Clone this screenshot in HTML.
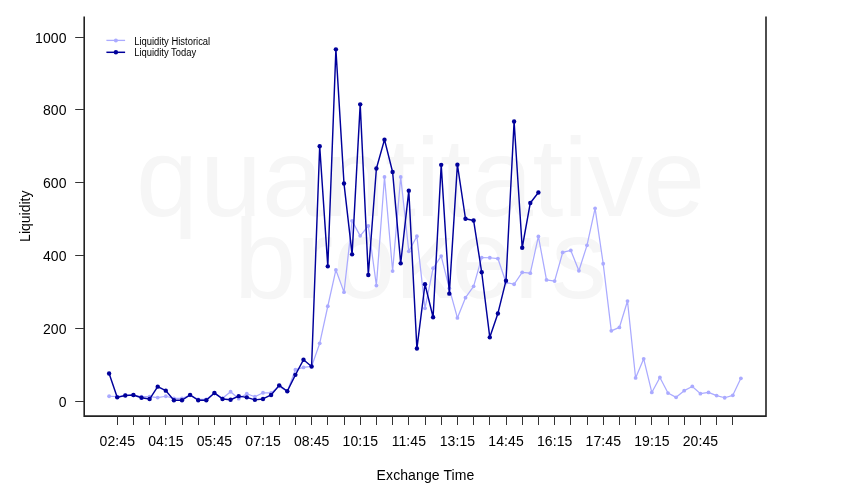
<!DOCTYPE html>
<html><head><meta charset="utf-8"><title>Liquidity</title>
<style>
html,body{margin:0;padding:0;background:#fff;}
body{width:850px;height:500px;overflow:hidden;font-family:"Liberation Sans",sans-serif;}
svg{display:block;will-change:transform;}
text{font-family:"Liberation Sans",sans-serif;}
</style></head><body>
<svg width="850" height="500" viewBox="0 0 850 500">
<rect width="850" height="500" fill="#fff"/>
<g fill="#f6f6f6" font-size="112">
<text x="136.0 199.9 261.9 323.3 385.0 415.4 440.0 470.9 532.5 563.2 587.6 643.3" y="215.5" font-size="111.4" transform="translate(0,-0.6) scale(1,1.0055)">quantitative</text>
<text transform="translate(233.9,298.4) scale(1,1.015)" textLength="373" lengthAdjust="spacingAndGlyphs">brokers</text>
</g>
<g fill="none" stroke="#aaaaff" stroke-width="1.25" stroke-linejoin="round" stroke-linecap="round"><path d="M109.1,396.25 L117.2,396.55 L125.3,395.25 L133.4,395.25 L141.5,396.55 L149.6,396.55 L157.7,397.55 L165.8,396.25 L173.9,398.35 L182.0,398.35 L190.1,395.35 L198.2,399.35 L206.3,399.35 L214.4,393.35 L222.5,398.35 L230.6,391.75 L238.7,398.65 L246.8,393.75 L254.9,396.75 L263.0,392.75 L271.1,392.95 L279.2,386.35 L287.3,391.35 L295.4,369.65 L303.5,367.45 L311.6,366.45 L319.7,343.35 L327.8,306.25 L335.9,269.95 L344.0,292.15 L352.1,220.85 L360.2,235.85 L368.3,225.95 L376.4,285.55 L384.5,176.95 L392.6,271.05 L400.7,176.95 L408.8,251.35 L416.9,236.25 L425.0,308.35 L433.1,268.25 L441.2,256.05 L449.3,288.35 L457.4,317.95 L465.5,297.65 L473.6,286.35 L481.7,257.55 L489.8,257.75 L497.9,258.55 L506.0,282.55 L514.1,284.25 L522.2,272.35 L530.3,273.15 L538.4,236.45 L546.5,279.95 L554.6,281.05 L562.7,252.45 L570.8,250.45 L578.9,270.75 L587.0,245.35 L595.1,208.35 L603.2,263.75 L611.3,330.85 L619.4,327.45 L627.5,301.05 L635.6,377.95 L643.7,358.85 L651.8,392.45 L659.9,377.45 L668.0,393.05 L676.1,397.35 L684.2,390.65 L692.3,386.45 L700.4,393.65 L708.5,392.45 L716.6,395.55 L724.7,397.75 L732.8,395.35 L740.9,378.35"/></g>
<g fill="#aaaaff"><circle cx="109.1" cy="396.25" r="1.9"/><circle cx="117.2" cy="396.55" r="1.9"/><circle cx="125.3" cy="395.25" r="1.9"/><circle cx="133.4" cy="395.25" r="1.9"/><circle cx="141.5" cy="396.55" r="1.9"/><circle cx="149.6" cy="396.55" r="1.9"/><circle cx="157.7" cy="397.55" r="1.9"/><circle cx="165.8" cy="396.25" r="1.9"/><circle cx="173.9" cy="398.35" r="1.9"/><circle cx="182.0" cy="398.35" r="1.9"/><circle cx="190.1" cy="395.35" r="1.9"/><circle cx="198.2" cy="399.35" r="1.9"/><circle cx="206.3" cy="399.35" r="1.9"/><circle cx="214.4" cy="393.35" r="1.9"/><circle cx="222.5" cy="398.35" r="1.9"/><circle cx="230.6" cy="391.75" r="1.9"/><circle cx="238.7" cy="398.65" r="1.9"/><circle cx="246.8" cy="393.75" r="1.9"/><circle cx="254.9" cy="396.75" r="1.9"/><circle cx="263.0" cy="392.75" r="1.9"/><circle cx="271.1" cy="392.95" r="1.9"/><circle cx="279.2" cy="386.35" r="1.9"/><circle cx="287.3" cy="391.35" r="1.9"/><circle cx="295.4" cy="369.65" r="1.9"/><circle cx="303.5" cy="367.45" r="1.9"/><circle cx="311.6" cy="366.45" r="1.9"/><circle cx="319.7" cy="343.35" r="1.9"/><circle cx="327.8" cy="306.25" r="1.9"/><circle cx="335.9" cy="269.95" r="1.9"/><circle cx="344.0" cy="292.15" r="1.9"/><circle cx="352.1" cy="220.85" r="1.9"/><circle cx="360.2" cy="235.85" r="1.9"/><circle cx="368.3" cy="225.95" r="1.9"/><circle cx="376.4" cy="285.55" r="1.9"/><circle cx="384.5" cy="176.95" r="1.9"/><circle cx="392.6" cy="271.05" r="1.9"/><circle cx="400.7" cy="176.95" r="1.9"/><circle cx="408.8" cy="251.35" r="1.9"/><circle cx="416.9" cy="236.25" r="1.9"/><circle cx="425.0" cy="308.35" r="1.9"/><circle cx="433.1" cy="268.25" r="1.9"/><circle cx="441.2" cy="256.05" r="1.9"/><circle cx="449.3" cy="288.35" r="1.9"/><circle cx="457.4" cy="317.95" r="1.9"/><circle cx="465.5" cy="297.65" r="1.9"/><circle cx="473.6" cy="286.35" r="1.9"/><circle cx="481.7" cy="257.55" r="1.9"/><circle cx="489.8" cy="257.75" r="1.9"/><circle cx="497.9" cy="258.55" r="1.9"/><circle cx="506.0" cy="282.55" r="1.9"/><circle cx="514.1" cy="284.25" r="1.9"/><circle cx="522.2" cy="272.35" r="1.9"/><circle cx="530.3" cy="273.15" r="1.9"/><circle cx="538.4" cy="236.45" r="1.9"/><circle cx="546.5" cy="279.95" r="1.9"/><circle cx="554.6" cy="281.05" r="1.9"/><circle cx="562.7" cy="252.45" r="1.9"/><circle cx="570.8" cy="250.45" r="1.9"/><circle cx="578.9" cy="270.75" r="1.9"/><circle cx="587.0" cy="245.35" r="1.9"/><circle cx="595.1" cy="208.35" r="1.9"/><circle cx="603.2" cy="263.75" r="1.9"/><circle cx="611.3" cy="330.85" r="1.9"/><circle cx="619.4" cy="327.45" r="1.9"/><circle cx="627.5" cy="301.05" r="1.9"/><circle cx="635.6" cy="377.95" r="1.9"/><circle cx="643.7" cy="358.85" r="1.9"/><circle cx="651.8" cy="392.45" r="1.9"/><circle cx="659.9" cy="377.45" r="1.9"/><circle cx="668.0" cy="393.05" r="1.9"/><circle cx="676.1" cy="397.35" r="1.9"/><circle cx="684.2" cy="390.65" r="1.9"/><circle cx="692.3" cy="386.45" r="1.9"/><circle cx="700.4" cy="393.65" r="1.9"/><circle cx="708.5" cy="392.45" r="1.9"/><circle cx="716.6" cy="395.55" r="1.9"/><circle cx="724.7" cy="397.75" r="1.9"/><circle cx="732.8" cy="395.35" r="1.9"/><circle cx="740.9" cy="378.35" r="1.9"/></g>
<g fill="none" stroke="#00009b" stroke-width="1.45" stroke-linejoin="round" stroke-linecap="round"><path d="M109.1,373.45 L117.2,397.35 L125.3,395.55 L133.4,395.05 L141.5,397.75 L149.6,399.05 L157.7,386.65 L165.8,390.65 L173.9,400.25 L182.0,400.25 L190.1,394.85 L198.2,400.25 L206.3,400.25 L214.4,392.95 L222.5,398.95 L230.6,399.75 L238.7,396.15 L246.8,397.35 L254.9,399.85 L263.0,398.95 L271.1,394.95 L279.2,385.35 L287.3,391.25 L295.4,374.85 L303.5,359.75 L311.6,366.45 L319.7,146.25 L327.8,266.35 L335.9,49.35 L344.0,183.55 L352.1,254.35 L360.2,104.35 L368.3,275.05 L376.4,168.55 L384.5,139.65 L392.6,172.05 L400.7,263.35 L408.8,190.65 L416.9,348.55 L425.0,284.25 L433.1,317.25 L441.2,164.85 L449.3,293.65 L457.4,164.65 L465.5,218.75 L473.6,220.45 L481.7,272.25 L489.8,337.35 L497.9,313.45 L506.0,280.65 L514.1,121.45 L522.2,247.75 L530.3,202.95 L538.4,192.55"/></g>
<g fill="#00009b"><circle cx="109.1" cy="373.45" r="2.2"/><circle cx="117.2" cy="397.35" r="2.2"/><circle cx="125.3" cy="395.55" r="2.2"/><circle cx="133.4" cy="395.05" r="2.2"/><circle cx="141.5" cy="397.75" r="2.2"/><circle cx="149.6" cy="399.05" r="2.2"/><circle cx="157.7" cy="386.65" r="2.2"/><circle cx="165.8" cy="390.65" r="2.2"/><circle cx="173.9" cy="400.25" r="2.2"/><circle cx="182.0" cy="400.25" r="2.2"/><circle cx="190.1" cy="394.85" r="2.2"/><circle cx="198.2" cy="400.25" r="2.2"/><circle cx="206.3" cy="400.25" r="2.2"/><circle cx="214.4" cy="392.95" r="2.2"/><circle cx="222.5" cy="398.95" r="2.2"/><circle cx="230.6" cy="399.75" r="2.2"/><circle cx="238.7" cy="396.15" r="2.2"/><circle cx="246.8" cy="397.35" r="2.2"/><circle cx="254.9" cy="399.85" r="2.2"/><circle cx="263.0" cy="398.95" r="2.2"/><circle cx="271.1" cy="394.95" r="2.2"/><circle cx="279.2" cy="385.35" r="2.2"/><circle cx="287.3" cy="391.25" r="2.2"/><circle cx="295.4" cy="374.85" r="2.2"/><circle cx="303.5" cy="359.75" r="2.2"/><circle cx="311.6" cy="366.45" r="2.2"/><circle cx="319.7" cy="146.25" r="2.2"/><circle cx="327.8" cy="266.35" r="2.2"/><circle cx="335.9" cy="49.35" r="2.2"/><circle cx="344.0" cy="183.55" r="2.2"/><circle cx="352.1" cy="254.35" r="2.2"/><circle cx="360.2" cy="104.35" r="2.2"/><circle cx="368.3" cy="275.05" r="2.2"/><circle cx="376.4" cy="168.55" r="2.2"/><circle cx="384.5" cy="139.65" r="2.2"/><circle cx="392.6" cy="172.05" r="2.2"/><circle cx="400.7" cy="263.35" r="2.2"/><circle cx="408.8" cy="190.65" r="2.2"/><circle cx="416.9" cy="348.55" r="2.2"/><circle cx="425.0" cy="284.25" r="2.2"/><circle cx="433.1" cy="317.25" r="2.2"/><circle cx="441.2" cy="164.85" r="2.2"/><circle cx="449.3" cy="293.65" r="2.2"/><circle cx="457.4" cy="164.65" r="2.2"/><circle cx="465.5" cy="218.75" r="2.2"/><circle cx="473.6" cy="220.45" r="2.2"/><circle cx="481.7" cy="272.25" r="2.2"/><circle cx="489.8" cy="337.35" r="2.2"/><circle cx="497.9" cy="313.45" r="2.2"/><circle cx="506.0" cy="280.65" r="2.2"/><circle cx="514.1" cy="121.45" r="2.2"/><circle cx="522.2" cy="247.75" r="2.2"/><circle cx="530.3" cy="202.95" r="2.2"/><circle cx="538.4" cy="192.55" r="2.2"/></g>
<path d="M84.2,16.6V416.1H766V16.6" fill="none" stroke="#222" stroke-width="1.6" stroke-linejoin="miter"/>
<path d="M117.5,416.2V425M133.5,416.2V425M149.5,416.2V425M165.5,416.2V425M182.5,416.2V425M198.5,416.2V425M214.5,416.2V425M230.5,416.2V425M246.5,416.2V425M263.5,416.2V425M279.5,416.2V425M295.5,416.2V425M311.5,416.2V425M327.5,416.2V425M344.5,416.2V425M360.5,416.2V425M376.5,416.2V425M392.5,416.2V425M408.5,416.2V425M425.5,416.2V425M441.5,416.2V425M457.5,416.2V425M473.5,416.2V425M489.5,416.2V425M506.5,416.2V425M522.5,416.2V425M538.5,416.2V425M554.5,416.2V425M570.5,416.2V425M587.5,416.2V425M603.5,416.2V425M619.5,416.2V425M635.5,416.2V425M651.5,416.2V425M668.5,416.2V425M684.5,416.2V425M700.5,416.2V425M716.5,416.2V425M732.5,416.2V425M75.2,401.5H84.2M75.2,328.5H84.2M75.2,255.5H84.2M75.2,182.5H84.2M75.2,109.5H84.2M75.2,37.5H84.2" fill="none" stroke="#333" stroke-width="1"/>
<g font-size="14" fill="#000" letter-spacing="0.1"><text x="117.3" y="446" text-anchor="middle">02:45</text><text x="165.9" y="446" text-anchor="middle">04:15</text><text x="214.5" y="446" text-anchor="middle">05:45</text><text x="263.1" y="446" text-anchor="middle">07:15</text><text x="311.7" y="446" text-anchor="middle">08:45</text><text x="360.3" y="446" text-anchor="middle">10:15</text><text x="408.9" y="446" text-anchor="middle">11:45</text><text x="457.5" y="446" text-anchor="middle">13:15</text><text x="506.1" y="446" text-anchor="middle">14:45</text><text x="554.7" y="446" text-anchor="middle">16:15</text><text x="603.3" y="446" text-anchor="middle">17:45</text><text x="651.9" y="446" text-anchor="middle">19:15</text><text x="700.5" y="446" text-anchor="middle">20:45</text><text x="66.6" y="406.9" text-anchor="end">0</text><text x="66.6" y="333.9" text-anchor="end">200</text><text x="66.6" y="260.9" text-anchor="end">400</text><text x="66.6" y="187.9" text-anchor="end">600</text><text x="66.6" y="114.9" text-anchor="end">800</text><text x="66.6" y="42.9" text-anchor="end">1000</text></g>
<text x="425.5" y="479.6" font-size="14" text-anchor="middle" letter-spacing="0.1">Exchange Time</text>
<text transform="translate(29.7,216.2) rotate(-90)" font-size="14" text-anchor="middle">Liquidity</text>
<g fill="none" stroke-linecap="butt"><path d="M106.4,40.4H125.1" stroke="#aaaaff" stroke-width="1.3"/><path d="M106.4,52.3H125.1" stroke="#00009b" stroke-width="1.5"/></g>
<circle cx="115.9" cy="40.4" r="2.0" fill="#aaaaff"/><circle cx="115.9" cy="52.3" r="2.2" fill="#00009b"/>
<g font-size="10" fill="#000">
<text x="134.2" y="44.5" textLength="76" lengthAdjust="spacingAndGlyphs">Liquidity Historical</text>
<text x="134.2" y="56.2" textLength="62" lengthAdjust="spacingAndGlyphs">Liquidity Today</text>
</g>
</svg>
</body></html>
